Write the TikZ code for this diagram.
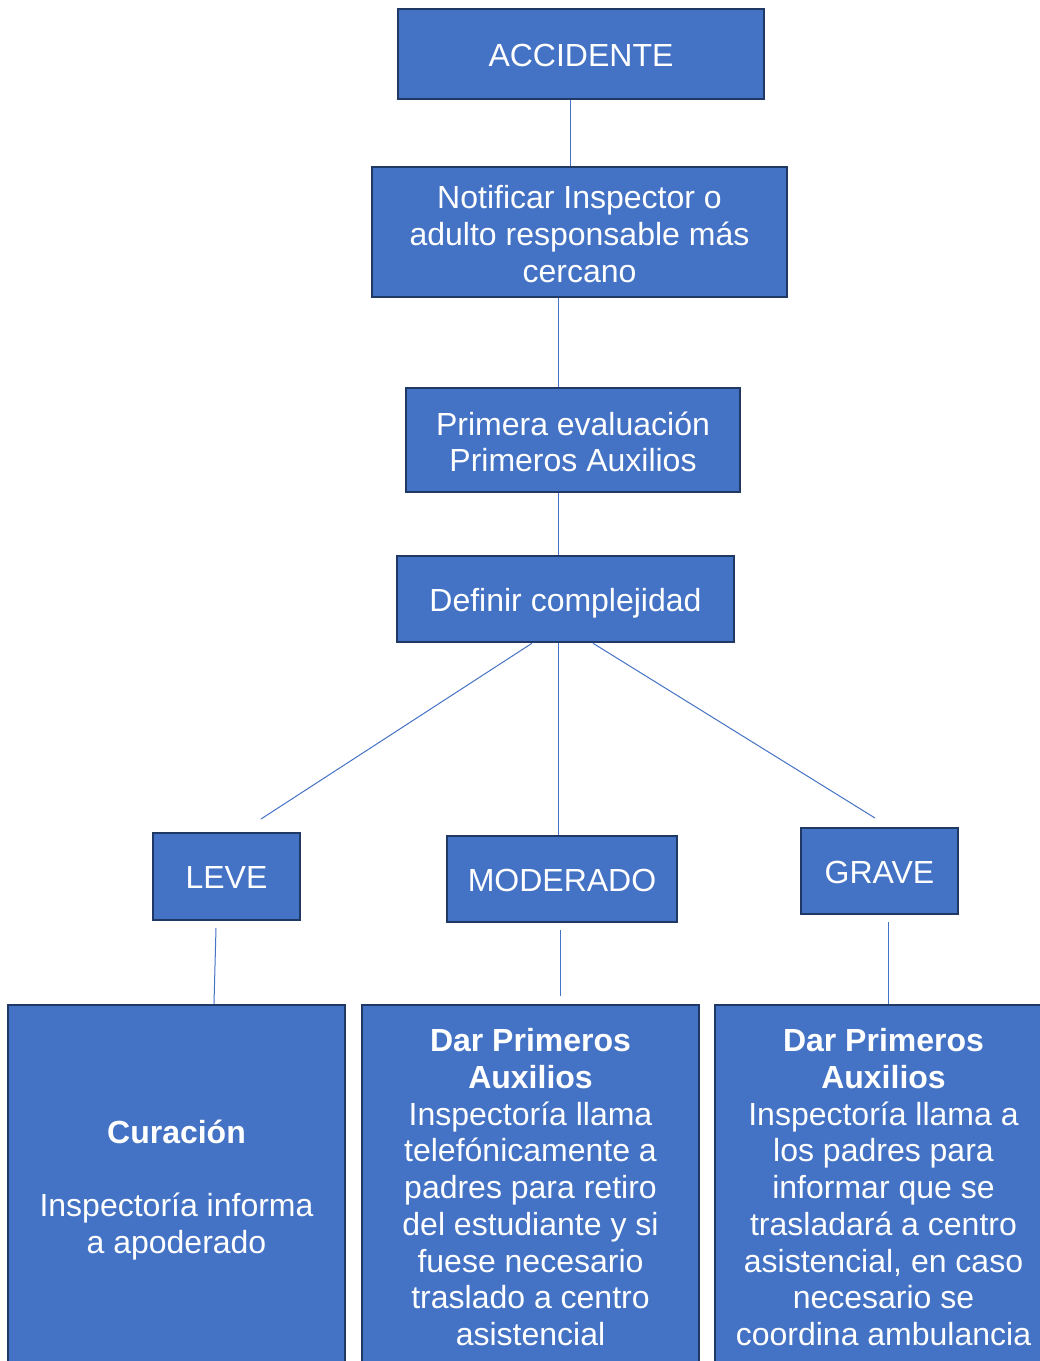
\documentclass[tikz,border=0pt]{standalone}
\usepackage{fontspec}
\setmainfont{Liberation Sans}
\definecolor{boxfill}{HTML}{4472C4}
\definecolor{boxline}{HTML}{1F3864}
\definecolor{conn}{HTML}{4472C4}
\newcommand{\topstrut}{\rule{0pt}{\dimexpr0.905em+2.5pt\relax}}
\newcommand{\ts}{\rule{0pt}{34pt}}
\newcommand{\botstrut}{\rule[-0.212em]{0pt}{0.212em}}
\begin{document}
\begin{tikzpicture}[x=1pt,y=-1pt,
  box/.style={draw=boxline,line width=2.5pt,fill=boxfill,text=white,inner sep=0pt,align=center,
    font=\fontsize{32}{36.7}\selectfont,
    execute at begin node=\topstrut, execute at end node=\botstrut},
  conline/.style={draw=conn,line width=1pt}]
\useasboundingbox (0,0) rectangle (1040,1361);
\begin{scope}
\clip (0,0) rectangle (1040,1361);
\node[box,minimum width=366,minimum height=90] (acc) at (581,54) {ACCIDENTE};
\node[box,minimum width=415,minimum height=130] (not) at (579.5,232) {\ts Notificar Inspector o\\adulto responsable más\\cercano};
\node[box,minimum width=334,minimum height=104] (pri) at (573,440) {\ts Primera evaluación\\Primeros Auxilios};
\node[box,minimum width=337,minimum height=86] (def) at (565.5,599) {Definir complejidad};
\node[box,minimum width=147,minimum height=87] (lev) at (226.5,876.5) {LEVE};
\node[box,minimum width=230,minimum height=86] (mod) at (562,879) {MODERADO};
\node[box,minimum width=157,minimum height=86] (gra) at (879.5,871) {GRAVE};
\node[box,minimum width=337,minimum height=360] (cur) at (176.5,1185) {\ts\textbf{Curación}\\[36.7pt]Inspectoría informa\\a apoderado};
\node[box,minimum width=337,minimum height=360] (modt) at (530.5,1185) {\ts\textbf{Dar Primeros}\\\textbf{Auxilios}\\Inspectoría llama\\telefónicamente a\\padres para retiro\\del estudiante y si\\fuese necesario\\traslado a centro\\asistencial};
\node[box,minimum width=337,minimum height=360] (grat) at (883.5,1185) {\ts\textbf{Dar Primeros}\\\textbf{Auxilios}\\Inspectoría llama a\\los padres para\\informar que se\\trasladará a centro\\asistencial, en caso\\necesario se\\coordina ambulancia};
\end{scope}
% connector free ends
\coordinate (levtop) at (261,819);
\coordinate (modtop) at (558,835);
\coordinate (gratop) at (875,818);
\coordinate (levbot) at (216,928);
\coordinate (modbot) at (560,930);
\coordinate (modtend) at (560,996);
\coordinate (grabot) at (888,922);
\draw[conline] (acc.south -| 570,0) -- (not.north -| 570,0);
\draw[conline] (not.south -| 558,0) -- (pri.north -| 558,0);
\draw[conline] (pri.south -| 558,0) -- (def.north -| 558,0);
\draw[conline] (def.south -| 532,0) -- (levtop);
\draw[conline] (def.south -| 558,0) -- (modtop);
\draw[conline] (def.south -| 593,0) -- (gratop);
\draw[conline] (levbot) -- (cur.north -| 214,0);
\draw[conline] (modbot) -- (modtend);
\draw[conline] (grabot) -- (grat.north -| 888,0);
\end{tikzpicture}
\end{document}
